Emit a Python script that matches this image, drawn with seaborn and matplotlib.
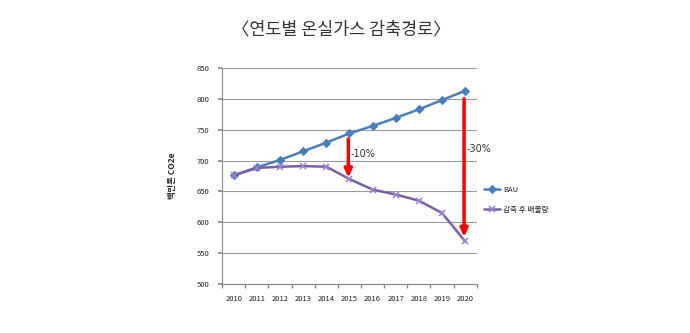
import matplotlib
matplotlib.use("Agg")
import matplotlib.pyplot as plt
import seaborn as sns
from matplotlib.ticker import FixedLocator

years = [2010, 2011, 2012, 2013, 2014, 2015, 2016, 2017, 2018, 2019, 2020]
bau = [676, 689, 701, 715, 729, 744, 756, 769, 783, 798, 813]
reduced = [676, 688, 690, 691, 690, 670, 653, 645, 635, 615, 569]
series_names = ["BAU", "감축 후 배출량"]
yticks = [500, 550, 600, 650, 700, 750, 800, 850]
arrows = [(2015, 735, 672, "-10%", 710), (2020, 800, 576, "-30%", 718)]

sns.set_theme(style="white")
plt.rcParams['font.family'] = ['Noto Sans CJK KR', 'DejaVu Sans']

fig = plt.figure(figsize=(6.9, 3.33), dpi=100)
ax = fig.add_axes([0.322, 0.147, 0.369, 0.649])

sns.lineplot(x=years, y=bau, color="#4A7EBB", marker="D", markersize=4,
             markeredgecolor="#4A7EBB", linewidth=1.8, label=series_names[0], ax=ax)
sns.lineplot(x=years, y=reduced, color="#7D5FA8", marker="x", markersize=5,
             markeredgecolor="#9D85D0", markeredgewidth=1.2, linewidth=1.8,
             label=series_names[1], ax=ax)

ax.set_xlim(2009.5, 2020.5)
ax.set_ylim(500, 850)
ax.set_yticks(yticks)
ax.set_yticklabels([str(v) for v in yticks], fontsize=5.5, color="#222222")
ax.set_xticks(years)
ax.set_xticklabels([str(y) for y in years], fontsize=5.5, color="#222222")
ax.xaxis.set_minor_locator(FixedLocator([y - 0.5 for y in years] + [2020.5]))
ax.tick_params(axis="x", which="major", length=0, pad=8)
ax.tick_params(axis="x", which="minor", length=3, color="#888888", direction="out", bottom=True)
ax.tick_params(axis="y", which="major", length=3, color="#888888", direction="out", left=True, pad=6)
ax.grid(axis="y", color="#999999", linewidth=0.8)
for s in ["top", "right"]:
    ax.spines[s].set_visible(False)
for s in ["left", "bottom"]:
    ax.spines[s].set_color("#888888")
    ax.spines[s].set_linewidth(0.8)
ax.set_xlabel("")
ax.set_ylabel("백만톤 CO2e", fontsize=6, fontweight="bold", labelpad=14)

for x, y0, y1, label, ty in arrows:
    ax.annotate("", xy=(x - 0.05, y1), xytext=(x - 0.05, y0),
                arrowprops=dict(arrowstyle="-|>,head_width=0.18,head_length=0.4",
                                color="#FF0000", lw=2.5, shrinkA=0, shrinkB=0))
    ax.text(x + 0.05, ty, label, fontsize=7, color="#333333", ha="left",
            va="center", family=["DejaVu Sans"])

handles, labels = ax.get_legend_handles_labels()
ax.legend(handles, labels, loc="center left", bbox_to_anchor=(1.0, 0.39),
          frameon=False, fontsize=5.5, handlelength=2.2, labelspacing=1.6,
          handletextpad=0.3)

fig.text(0.495, 0.91, "〈연도별 온실가스 감축경로〉", ha="center", va="center",
         fontsize=12.5, color="#333333")

fig.savefig("out.png", dpi=100)
